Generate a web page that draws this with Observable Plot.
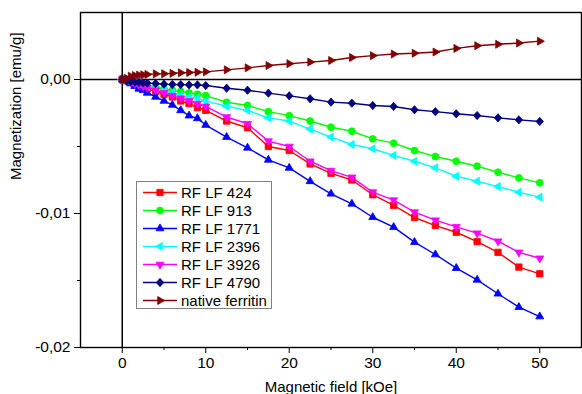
<!DOCTYPE html>
<html><head><meta charset="utf-8">
<script src="https://cdn.jsdelivr.net/npm/d3@7"></script>
<script src="https://cdn.jsdelivr.net/npm/@observablehq/plot@0.6"></script>
<style>
html,body{margin:0;padding:0;background:#fff;}
#chart{position:relative;width:582px;height:394px;overflow:hidden;font-family:"Liberation Sans",Arial,sans-serif;}
#legend{position:absolute;left:136px;top:181px;}
</style></head><body><div id="chart"></div>
<script>
// Magnetic field values (kOe)
const fields = [0, 0.5, 1, 1.5, 2, 2.5, 3, 4, 5, 6, 7, 8, 9, 10, 12.5, 15, 17.5, 20, 22.5, 25, 27.5, 30, 32.5, 35, 37.5, 40, 42.5, 45, 47.5, 50];

const seriesNames = ["RF LF 424", "RF LF 913", "RF LF 1771", "RF LF 2396", "RF LF 3926", "RF LF 4790", "native ferritin"];

const rf424 = [0, -0.0001, -0.0002, -0.0003, -0.0005, -0.0006, -0.0007, -0.0009, -0.0011, -0.0013, -0.0016, -0.0018, -0.0021, -0.0023, -0.0031, -0.0036, -0.0050, -0.0053, -0.0063, -0.0070, -0.0075, -0.0086, -0.0094, -0.0103, -0.0109, -0.0114, -0.0121, -0.0129, -0.0140, -0.0145];
const rf913 = [0, -0.00005, -0.0001, -0.0002, -0.0003, -0.0004, -0.0005, -0.0006, -0.0007, -0.0008, -0.0009, -0.0010, -0.0011, -0.0012, -0.0017, -0.00194, -0.0024, -0.0027, -0.0031, -0.00356, -0.00386, -0.00443, -0.00475, -0.0053, -0.00575, -0.0061, -0.00647, -0.00692, -0.00734, -0.00771];
const rf1771 = [0, -0.0001, -0.0003, -0.0005, -0.0007, -0.0008, -0.0010, -0.0013, -0.0016, -0.0019, -0.0023, -0.0027, -0.0029, -0.0034, -0.0043, -0.0051, -0.0060, -0.0066, -0.0076, -0.00853, -0.00928, -0.01028, -0.01102, -0.01214, -0.01306, -0.01408, -0.01495, -0.01599, -0.01699, -0.01769];
const rf2396 = [0, -0.00005, -0.00015, -0.0002, -0.0003, -0.0004, -0.0005, -0.0007, -0.0008, -0.0010, -0.0012, -0.0013, -0.0014, -0.0016, -0.0020, -0.0023, -0.00286, -0.0031, -0.0037, -0.0043, -0.00485, -0.00517, -0.00567, -0.0061, -0.0066, -0.00722, -0.00759, -0.00799, -0.00841, -0.00878];
const rf3926 = [0, -0.0001, -0.0002, -0.0003, -0.0004, -0.0005, -0.0006, -0.0008, -0.0010, -0.0012, -0.0014, -0.0016, -0.0018, -0.0020, -0.0028, -0.0033, -0.0046, -0.0050, -0.0061, -0.0068, -0.0073, -0.0084, -0.0090, -0.0099, -0.0105, -0.0110, -0.01147, -0.01207, -0.0129, -0.01334];
const rf4790 = [0, -0.0001, -0.00015, -0.0002, -0.00022, -0.00025, -0.00027, -0.0003, -0.00035, -0.00037, -0.00038, -0.0004, -0.0004, -0.00045, -0.00065, -0.0008, -0.00102, -0.00122, -0.00144, -0.00169, -0.00177, -0.00194, -0.00201, -0.00226, -0.0024, -0.00256, -0.00269, -0.00286, -0.00301, -0.00313];
const nativeFerritin = [0, 0.0001, 0.00025, 0.0003, 0.00033, 0.00035, 0.00038, 0.00042, 0.00043, 0.00046, 0.0005, 0.00052, 0.00054, 0.00057, 0.00072, 0.00087, 0.00104, 0.00118, 0.0013, 0.00142, 0.00164, 0.00178, 0.0019, 0.00196, 0.00205, 0.00232, 0.00252, 0.00263, 0.00272, 0.00286];

const xTicks = [0, 10, 20, 30, 40, 50];
const xMinorTicks = [5, 15, 25, 35, 45];
const yTicks = [-0.02, -0.01, 0];
const yMinorTicks = [-0.015, -0.005];

// styling
const colors = ["#ff0000", "#00ff00", "#0000ff", "#00ffff", "#ff00ff", "#000080", "#800000"];

function poly(points) {
  return {draw(ctx, size) {
    const r = Math.sqrt(size / Math.PI);
    points.forEach(([px, py], i) => { if (i === 0) ctx.moveTo(px * r, py * r); else ctx.lineTo(px * r, py * r); });
    ctx.closePath();
  }};
}
function triangle(angleDeg) {
  const R = 1.25, pts = [];
  for (let k = 0; k < 3; k++) {
    const a = (angleDeg + k * 120) * Math.PI / 180;
    pts.push([R * Math.cos(a), R * Math.sin(a)]);
  }
  return poly(pts);
}
const square = poly([[-0.86, -0.86], [0.86, -0.86], [0.86, 0.86], [-0.86, 0.86]]);
const circle = {draw(ctx, size) { const r = 0.93 * Math.sqrt(size / Math.PI); ctx.moveTo(r, 0); ctx.arc(0, 0, r, 0, 2 * Math.PI); }};
const diamond = poly([[0, -1.12], [1.0, 0], [0, 1.12], [-1.0, 0]]);
const symbols = [square, circle, triangle(-90), triangle(180), triangle(90), diamond, triangle(0)];

const valueLists = [rf424, rf913, rf1771, rf2396, rf3926, rf4790, nativeFerritin];
const series = seriesNames.map((name, i) => ({
  name, color: colors[i], symbol: symbols[i],
  rows: fields.map((f, j) => ({field: f, m: valueLists[i][j], series: name}))
}));

const fmt = d => d.toFixed(2).replace(".", ",");
const fontSize = 15.5;
const dotR = 3.7;

const marks = [
  Plot.ruleX([0], {stroke: "#000", strokeWidth: 1.5}),
  Plot.ruleY([0], {stroke: "#000", strokeWidth: 1.5}),
  Plot.axisX({ticks: xTicks, tickSize: 6, tickPadding: 3, label: null, fontSize, tickFormat: d => String(d)}),
  Plot.axisX({ticks: xMinorTicks, tickSize: 3, text: null, label: null}),
  Plot.axisY({ticks: yTicks, tickSize: 6, tickPadding: 4, label: null, fontSize, tickFormat: fmt}),
  Plot.axisY({ticks: yMinorTicks, tickSize: 3, text: null, label: null}),
  Plot.text(["Magnetic field [kOe]"], {text: d => d, frameAnchor: "bottom", dy: 44, fontSize: 15}),
  Plot.text(["Magnetization [emu/g]"], {text: d => d, frameAnchor: "left", dx: -64, rotate: -90, fontSize: 15})
];
for (const s of series) {
  marks.push(Plot.line(s.rows, {x: "field", y: "m", stroke: s.color, strokeWidth: 1.4}));
  marks.push(Plot.dot(s.rows, {x: "field", y: "m", symbol: s.symbol, r: dotR, fill: s.color, stroke: s.color, strokeWidth: 0.8}));
}
marks.push(Plot.frame({stroke: "#000", strokeWidth: 1.4}));

const chart = Plot.plot({
  width: 582, height: 394,
  marginLeft: 80, marginRight: 1, marginTop: 12, marginBottom: 47,
  style: {fontFamily: "'Liberation Sans', Arial, sans-serif", fontSize: "15px", background: "#fff", color: "#000"},
  x: {domain: [-5, 55]},
  y: {domain: [-0.02, 0.005]},
  marks
});
const host = document.getElementById("chart");
host.appendChild(chart);

// Legend overlay
const lw = 136, lh = 128;
const leg = d3.select(host).append("svg").attr("id", "legend").attr("width", lw).attr("height", lh)
  .style("font-family", "'Liberation Sans', Arial, sans-serif");
leg.append("rect").attr("x", 0.5).attr("y", 0.5).attr("width", lw - 1).attr("height", lh - 1)
  .attr("fill", "#fff").attr("stroke", "#808080").attr("stroke-width", 1);
series.forEach((s, i) => {
  const cy = 11.5 + i * 18;
  const g = leg.append("g");
  g.append("line").attr("x1", 7).attr("x2", 41).attr("y1", cy).attr("y2", cy).attr("stroke", s.color).attr("stroke-width", 1.6);
  g.append("path").attr("transform", `translate(24,${cy})`)
    .attr("d", d3.symbol().type(s.symbol).size(Math.PI * dotR * dotR)())
    .attr("fill", s.color).attr("stroke", s.color).attr("stroke-width", 0.8);
  g.append("text").attr("x", 45).attr("y", cy).attr("dy", "0.36em").attr("font-size", 15).attr("fill", "#000").text(s.name);
});
</script></body></html>
